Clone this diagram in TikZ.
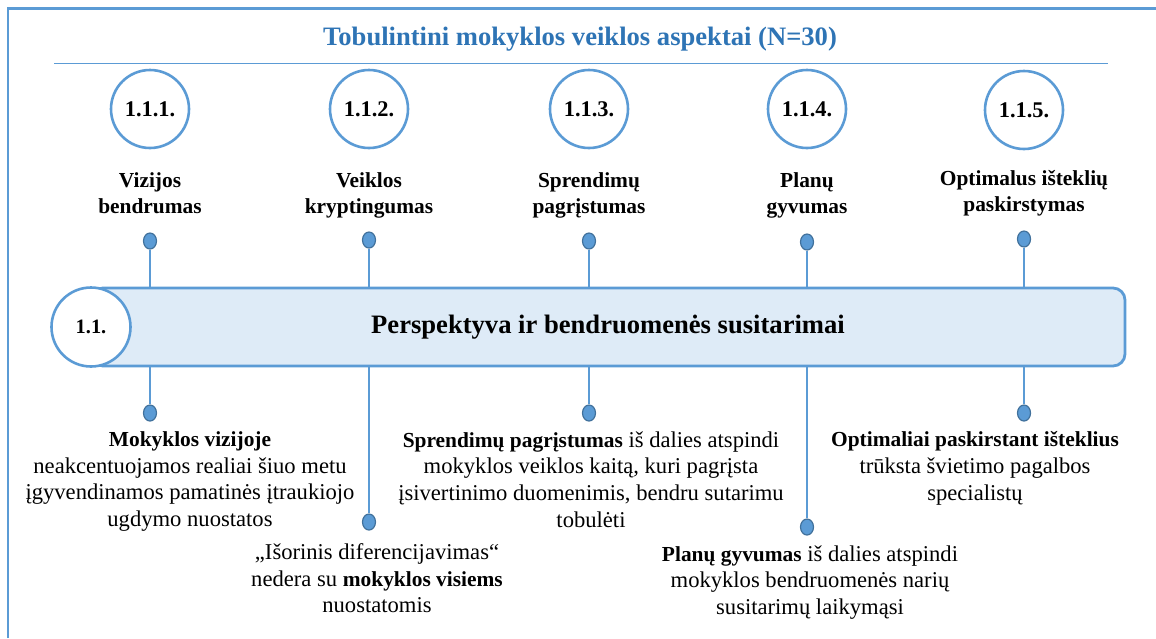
\documentclass[tikz,border=0pt]{standalone}
\usepackage{fontspec}
\setmainfont{Liberation Serif}
\usepackage{tikz}
\usetikzlibrary{positioning, shapes.geometric}
\definecolor{lineblue}{RGB}{91,155,213}
\definecolor{dotedge}{RGB}{65,113,156}
\definecolor{barfill}{RGB}{222,235,247}
\definecolor{titleblue}{RGB}{46,116,181}
\newcommand{\kw}[1]{{\fontsize{10.7}{13.4}\selectfont\bfseries #1}}

\begin{document}
\begin{tikzpicture}[
                x=0.5pt, y=-0.5pt,
                aspect/.style={circle, draw=lineblue, line width=1.3pt, minimum size=39pt, inner sep=0pt, fill=white, font=\fontsize{11.2}{13}\selectfont\bfseries},
                aspname/.style={align=center, inner sep=0pt, font=\fontsize{10.7}{13}\selectfont\bfseries},
                finding/.style={align=center, inner sep=0pt, anchor=north, font=\fontsize{11.3}{13.4}\selectfont},
                pin/.style={ellipse, draw=dotedge, fill=lineblue, line width=0.6pt, minimum width=6.5pt, minimum height=8pt, inner sep=0pt},
                link/.style={draw=lineblue, line width=1.1pt}
            ]
            \useasboundingbox (0,0) rectangle (1156,638);
            % frame and title
            \draw[lineblue, line width=1.3pt] (8,638) -- (8,8.5) -- (1156,8.5);
            \node[font=\fontsize{13.3}{16}\selectfont\bfseries, text=titleblue, anchor=base] (title) at (580,45) {Tobulintini mokyklos veiklos aspektai (N=30)};
            \draw[lineblue, line width=0.5pt] (54,63) -- (1108,63);

            % main bar
            \node[draw=lineblue, fill=barfill, line width=1.4pt, rounded corners=6pt, minimum width=517pt, minimum height=39pt, font=\fontsize{13.3}{15}\selectfont\bfseries] (bar) at (608,327) {Perspektyva ir bendruomenės susitarimai};
            \node[aspect, minimum size=39.5pt, font=\fontsize{10.2}{12}\selectfont\bfseries] (main) at (91,327) {1.1.};

            % aspects
            \node[aspect] (c1) at (150,109) {1.1.1.};
            \node[aspect] (c2) at (369,109) {1.1.2.};
            \node[aspect] (c3) at (589,109) {1.1.3.};
            \node[aspect] (c4) at (807,109) {1.1.4.};
            \node[aspect] (c5) at (1024,110) {1.1.5.};

            \node[aspname, below=11.5pt of c1] (n1) {Vizijos\\bendrumas};
            \node[aspname, below=11.5pt of c2] (n2) {Veiklos\\kryptingumas};
            \node[aspname, below=11.5pt of c3] (n3) {Sprendimų\\pagrįstumas};
            \node[aspname, below=11.5pt of c4] (n4) {Planų\\gyvumas};
            \node[aspname, below=10pt of c5] (n5) {Optimalus išteklių\\paskirstymas};

            % pins
            \node[pin] (t1) at (150,241) {};
            \node[pin] (t2) at (369,240) {};
            \node[pin] (t3) at (589,241) {};
            \node[pin] (t4) at (807,242) {};
            \node[pin] (t5) at (1024,239) {};
            \node[pin] (b1) at (150,413) {};
            \node[pin] (b2) at (369,522) {};
            \node[pin] (b3) at (589,413) {};
            \node[pin] (b4) at (807,527) {};
            \node[pin] (b5) at (1024,413) {};

            \draw[link] (t1) -- (t1 |- bar.north);
            \draw[link] (t2) -- (t2 |- bar.north);
            \draw[link] (t3) -- (t3 |- bar.north);
            \draw[link] (t4) -- (t4 |- bar.north);
            \draw[link] (t5) -- (t5 |- bar.north);
            \draw[link] (bar.south -| b1) -- (b1);
            \draw[link] (bar.south -| b2) -- (b2);
            \draw[link] (bar.south -| b3) -- (b3);
            \draw[link] (bar.south -| b4) -- (b4);
            \draw[link] (bar.south -| b5) -- (b5);

            % findings
            \node[finding] (f1) at (190,431) {\kw{Mokyklos vizijoje}\\neakcentuojamos realiai šiuo metu\\įgyvendinamos pamatinės įtraukiojo\\ugdymo nuostatos};
            \node[finding] (f2) at (377,543) {„Išorinis diferencijavimas“\\nedera su \kw{mokyklos visiems}\\nuostatomis};
            \node[finding] (f3) at (591,431) {\kw{Sprendimų pagrįstumas} iš dalies atspindi\\mokyklos veiklos kaitą, kuri pagrįsta\\įsivertinimo duomenimis, bendru sutarimu\\tobulėti};
            \node[finding] (f4) at (810,545) {\kw{Planų gyvumas} iš dalies atspindi\\mokyklos bendruomenės narių\\susitarimų laikymąsi};
            \node[finding] (f5) at (975,431) {\kw{Optimaliai paskirstant išteklius}\\trūksta švietimo pagalbos\\specialistų};
\end{tikzpicture}
\end{document}
